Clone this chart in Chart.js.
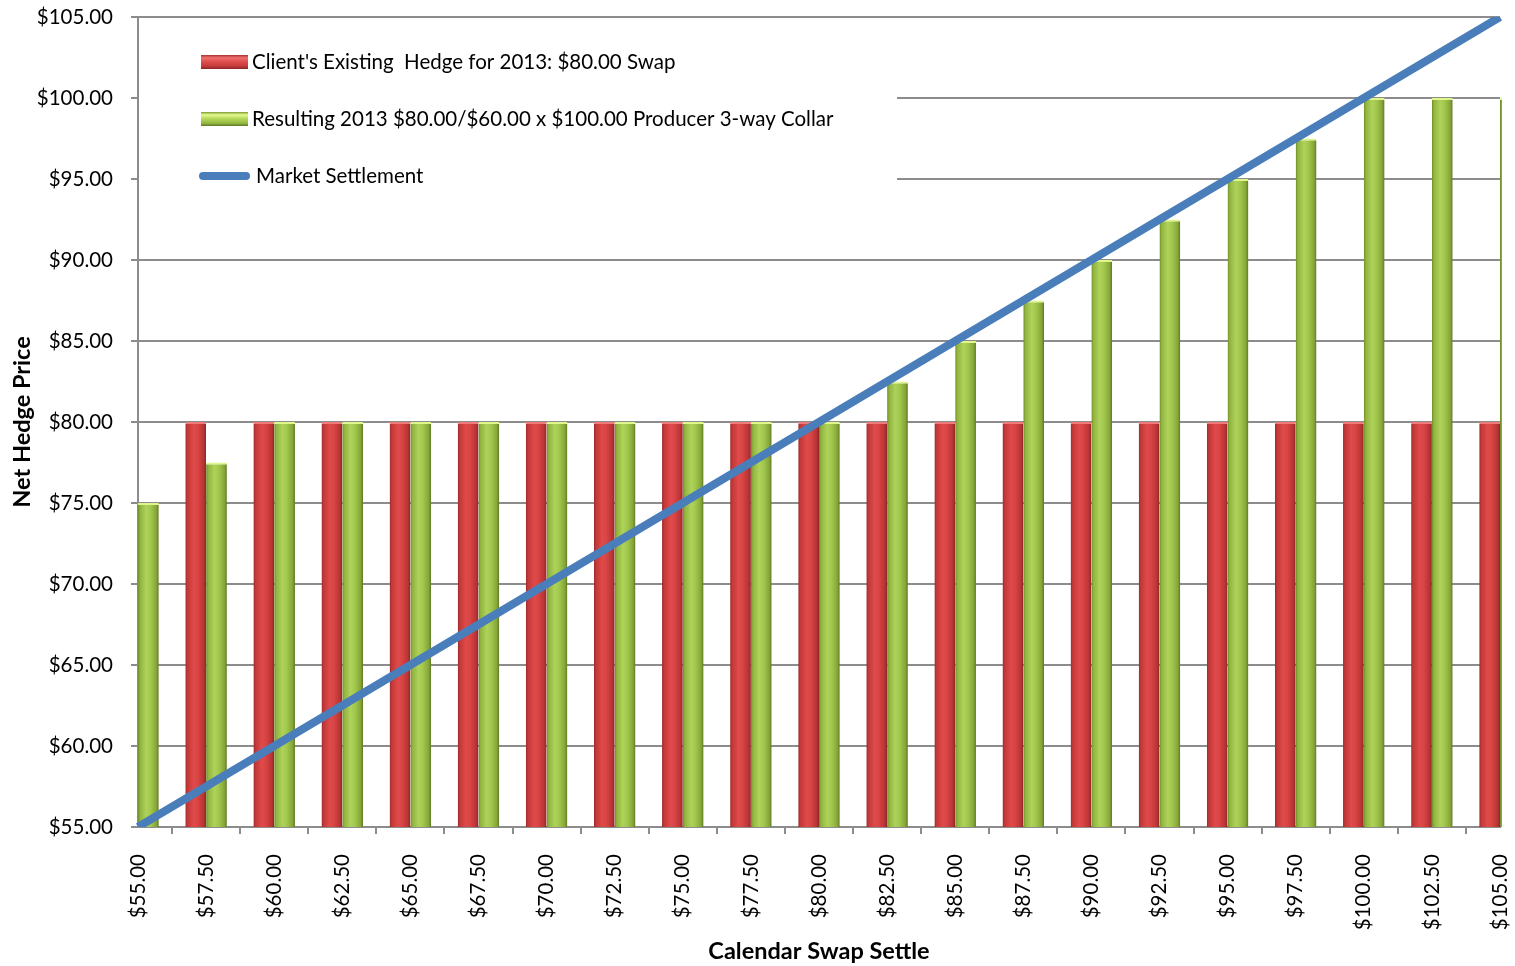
<!DOCTYPE html>
<html>
<head>
<meta charset="utf-8">
<script src="https://cdn.jsdelivr.net/npm/chart.js@4.4.1/dist/chart.umd.min.js"></script>
<style>
  html, body { margin: 0; padding: 0; background: #ffffff; }
  #wrap { width: 1515px; height: 966px; }
</style>
</head>
<body>
<div id="wrap"><canvas id="c" width="1515" height="966"></canvas></div>
<script>
const categories = ['$55.00','$57.50','$60.00','$62.50','$65.00','$67.50','$70.00','$72.50','$75.00','$77.50','$80.00','$82.50','$85.00','$87.50','$90.00','$92.50','$95.00','$97.50','$100.00','$102.50','$105.00'];
const hedgeValues = [80,80,80,80,80,80,80,80,80,80,80,80,80,80,80,80,80,80,80,80,80];
const collarValues = [75,77.5,80,80,80,80,80,80,80,80,80,82.5,85,87.5,90,92.5,95,97.5,100,100,100];
const marketValues = [55,57.5,60,62.5,65,67.5,70,72.5,75,77.5,80,82.5,85,87.5,90,92.5,95,97.5,100,102.5,105];
const yTickValues = [55,60,65,70,75,80,85,90,95,100,105];
const seriesLabels = ["Client's Existing  Hedge for 2013: $80.00 Swap", 'Resulting 2013 $80.00/$60.00 x $100.00 Producer 3-way Collar', 'Market Settlement'];
const xTitle = 'Calendar Swap Settle';
const yTitle = 'Net Hedge Price';

const FONT = 'Lato, "Noto Sans", sans-serif';
const GRID = '#8c8c8c';
const CAT_PCT = 0.61;

const redStops = [[0,'#9a2a2a'],[0.1,'#c23838'],[0.4,'#df4a4a'],[0.6,'#d94444'],[0.88,'#b83434'],[1,'#8c2626']];
const greenStops = [[0,'#6c8c2a'],[0.1,'#90b43e'],[0.4,'#aed25a'],[0.6,'#a3c84e'],[0.88,'#86a638'],[1,'#5c7724']];

function barGradient(ctx, stops, groupIndex) {
  const chart = ctx.chart;
  const xs = chart.scales.x;
  if (!xs || !chart.chartArea) return stops[2][1];
  const px = xs.getPixelForValue(ctx.dataIndex);
  const spacing = xs.getPixelForValue(1) - xs.getPixelForValue(0);
  const size = spacing * CAT_PCT;
  const chunk = size / 2;
  const left = px - size / 2 + chunk * groupIndex;
  const g = chart.ctx.createLinearGradient(left, 0, left + chunk, 0);
  stops.forEach(s => g.addColorStop(s[0], s[1]));
  return g;
}

const legendPlugin = {
  id: 'insideLegend',
  beforeDatasetsDraw(chart) {
    const c = chart.ctx;
    const area = chart.chartArea;
    c.save();
    c.fillStyle = '#ffffff';
    c.fillRect(area.left + 1, area.top + 2, 897 - area.left - 1, 190);
    const sx = 201, sw = 47;
    const rows = [62, 119, 176];
    [0, 1].forEach((i) => {
      const y = rows[i] - 7;
      const g = c.createLinearGradient(0, y, 0, y + 14);
      const st = i === 0
        ? [[0,'#a83030'],[0.2,'#f07070'],[0.45,'#e25050'],[0.8,'#c23a3a'],[1,'#8c2626']]
        : [[0,'#7a9a30'],[0.2,'#e6fa90'],[0.45,'#b8dc60'],[0.8,'#94b840'],[1,'#5c7724']];
      st.forEach(p => g.addColorStop(p[0], p[1]));
      c.fillStyle = g;
      c.fillRect(sx, y, sw, 14);
    });
    c.strokeStyle = '#4a7ebb';
    c.lineWidth = 8;
    c.lineCap = 'round';
    c.beginPath();
    c.moveTo(203, rows[2]);
    c.lineTo(246, rows[2]);
    c.stroke();
    c.fillStyle = '#000000';
    c.font = '20.5px ' + FONT;
    c.textBaseline = 'middle';
    c.textAlign = 'left';
    c.fillText(seriesLabels[0], 252, rows[0]);
    c.fillText(seriesLabels[1], 252, rows[1]);
    c.fillText(seriesLabels[2], 256, rows[2]);
    c.restore();
  }
};

new Chart(document.getElementById('c'), {
  data: {
    labels: categories,
    datasets: [
      {
        type: 'line',
        label: seriesLabels[2],
        data: marketValues,
        borderColor: '#4a7ebb',
        borderWidth: 8,
        pointRadius: 0,
        tension: 0,
        fill: false,
        order: 0
      },
      {
        type: 'bar',
        label: seriesLabels[0],
        data: hedgeValues,
        backgroundColor: (ctx) => barGradient(ctx, redStops, 0),
        borderColor: '#ef7b7b',
        borderWidth: { top: 2, left: 0, right: 0, bottom: 0 },
        borderSkipped: 'bottom',
        categoryPercentage: CAT_PCT,
        barPercentage: 1.0,
        clip: {left: 0, top: 5, right: 2, bottom: 0},
        order: 1
      },
      {
        type: 'bar',
        label: seriesLabels[1],
        data: collarValues,
        backgroundColor: (ctx) => barGradient(ctx, greenStops, 1),
        borderColor: '#def68a',
        borderWidth: { top: 2, left: 0, right: 0, bottom: 0 },
        borderSkipped: 'bottom',
        categoryPercentage: CAT_PCT,
        barPercentage: 1.0,
        clip: {left: 0, top: 5, right: 2, bottom: 0},
        order: 1
      }
    ]
  },
  options: {
    responsive: false,
    animation: false,
    layout: { padding: { top: 17, right: 15, bottom: 0, left: 0 } },
    plugins: {
      legend: { display: false },
      tooltip: { enabled: false }
    },
    scales: {
      x: {
        type: 'category',
        offset: false,
        grid: { display: true, drawOnChartArea: false, drawTicks: true, tickLength: 7, color: GRID, lineWidth: 2 },
        border: { display: true, color: GRID, width: 2 },
        ticks: {
          color: '#000000',
          font: { family: FONT, size: 20.5 },
          minRotation: 90,
          maxRotation: 90,
          padding: 20,
          autoSkip: false
        },
        title: {
          display: true,
          text: xTitle,
          color: '#000000',
          font: { family: FONT, size: 23.5, weight: 'bold' },
          padding: { top: 0, bottom: 0 }
        },
        afterFit: (s) => { s.height = 139; s.paddingLeft = 0; s.paddingRight = 0; s.paddingTop = 0; s.paddingBottom = 0; }
      },
      y: {
        type: 'linear',
        min: 55,
        max: 105,
        afterBuildTicks: (s) => { s.ticks = yTickValues.map(v => ({ value: v })); },
        grid: { color: GRID, lineWidth: 2, drawTicks: true, tickLength: 7 },
        border: { display: true, color: GRID, width: 2 },
        ticks: {
          color: '#000000',
          font: { family: FONT, size: 20.5 },
          padding: 18,
          callback: (v) => '$' + Number(v).toFixed(2)
        },
        title: {
          display: true,
          text: yTitle,
          color: '#000000',
          font: { family: FONT, size: 23.5, weight: 'bold' },
          padding: { top: 8, bottom: 0 }
        },
        afterFit: (s) => { s.width = 138; s.paddingLeft = 0; s.paddingRight = 0; s.paddingTop = 0; s.paddingBottom = 0; }
      }
    }
  },
  plugins: [legendPlugin]
});
</script>
</body>
</html>
